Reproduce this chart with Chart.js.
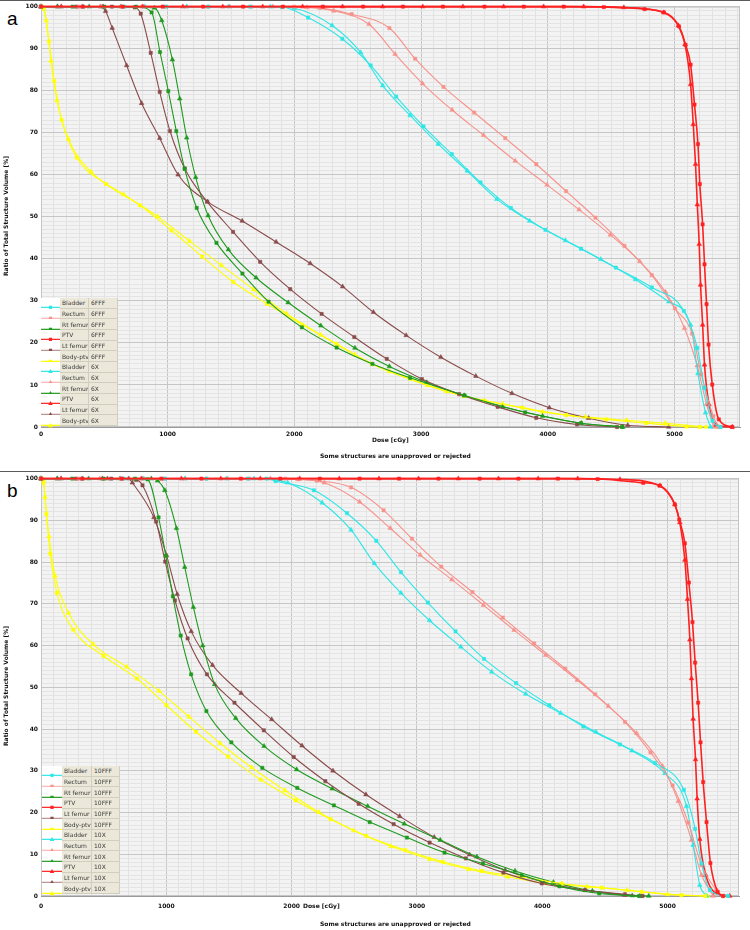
<!DOCTYPE html>
<html>
<head>
<meta charset="utf-8">
<script src="https://cdn.jsdelivr.net/npm/chart.js@4.4.0/dist/chart.umd.min.js"></script>
<style>
    body { margin: 0; width: 750px; height: 930px; background: #fff; position: relative; overflow: hidden; font-family: 'DejaVu Sans', sans-serif; }
    canvas { position: absolute; left: 0; }
    .rule { position: absolute; left: 0; width: 750px; height: 1px; background: #5a5a5a; }
    .tag { position: absolute; left: 7px; font: 19px/19px 'Liberation Sans', Arial, sans-serif; color: #000; }
    .small { position: absolute; font-weight: bold; font-size: 6px; line-height: 6px; color: #111; white-space: nowrap; }
    .ytitle { position: absolute; font-weight: bold; font-size: 6px; line-height: 6px; color: #111; white-space: nowrap; transform: translate(-50%, -50%) rotate(-90deg); }
    .legend { position: absolute; }
    .legend .row { position: absolute; left: 0; display: flex; }
    .legend .smp { background: #fff; }
    .legend .cell { background: #ebe8d9; border-right: 1px solid #d2cebf; border-bottom: 1px solid #d2cebf; box-sizing: border-box; font-size: 6px; color: #3a3a3a; padding-left: 2px; display: flex; align-items: center; white-space: nowrap; overflow: hidden; }
</style>
</head>
<body>
<div class="rule" style="top:0"></div>
<div class="rule" style="top:471px"></div>
<div class="tag" style="top:9px">a</div>
<div class="tag" style="top:481px">b</div>

<canvas id="chartA" width="750" height="470" style="top:0"></canvas>
<canvas id="chartB" width="750" height="458" style="top:472px"></canvas>

<div class="ytitle" style="left:6px; top:216px">Ratio of Total Structure Volume [%]</div>
<div class="ytitle" style="left:6px; top:686px">Ratio of Total Structure Volume [%]</div>
<div class="small" style="left:372px; top:437px">Dose [cGy]</div>
<div class="small" style="left:320px; top:453px">Some structures are unapproved or rejected</div>
<div class="small" style="left:303px; top:903px">Dose [cGy]</div>
<div class="small" style="left:320px; top:921px">Some structures are unapproved or rejected</div>

<div id="legendA" class="legend"></div>
<div id="legendB" class="legend"></div>

<script>
// structures and beam energies
const structures = ['Bladder', 'Rectum', 'Rt femur', 'PTV', 'Lt femur', 'Body-ptv'];
const energiesA = ['6FFF', '6X'];
const energiesB = ['10FFF', '10X'];
const colors = ['#2ee6e6', '#f7928c', '#1f9a1f', '#ff2020', '#8a4b4b', '#ffff00'];
const legendColors = ['#2ee6e6', '#ffb4b0', '#1f9a1f', '#ff2020', '#b89090', '#ffff00'];

// panel a: [dose cGy, volume %]
const bladder6FFF = [[0,100],[330,100],[660,100],[990,100],[1320,100],[1650,100],[1900,99.9],[2108,97.4],[2379,92.3],[2602,86],[2803,78.6],[3019,71.5],[3243,64.9],[3469,58.2],[3709,52.1],[3981,46.9],[4262,42.4],[4537,37.9],[4821,33.2],[5074,27.6],[5180,18.8],[5237,9.3],[5300,1.5],[5364,0]];
const rectum6FFF = [[0,100],[300,100],[640,100],[980,100],[1320,100],[1660,100],[2000,100],[2200,99.7],[2452,98.2],[2750,94.9],[2953,87.6],[3177,80.9],[3419,74.8],[3664,68.7],[3909,62.5],[4144,56.1],[4376,49.8],[4605,43.1],[4821,36.1],[5003,28.2],[5140,22.2],[5211,12.5],[5306,2.6],[5345,0]];
const rtFemur6FFF = [[0,100],[250,100],[500,100],[750,100],[873,98.6],[939,89.2],[1005,79.9],[1068,70.4],[1134,61.4],[1229,52.1],[1385,43.8],[1590,36.5],[1796,29.8],[2059,23.7],[2333,18.9],[2616,15],[2913,11.7],[3343,7.5],[3822,3.5],[4262,0.9],[4587,0]];
const ptv6FFF = [[0,100],[330,100],[645,100],[960,100],[1280,100],[1595,100],[1910,100],[2225,100],[2542,100],[2857,100],[3172,100],[3500,100],[3810,100],[4125,100],[4442,99.9],[4763,99.4],[4916,98.6],[5035,95.3],[5087,90.9],[5127,86.2],[5158,76.7],[5185,67.3],[5200,57.8],[5222,48.2],[5237,38.7],[5253,29.2],[5269,19.6],[5298,10.1],[5350,1.8],[5456,0]];
const ltFemur6FFF = [[0,100],[280,100],[560,100],[740,99.8],[787,98.3],[866,89],[937,79.7],[1018,70.4],[1134,61.5],[1311,53.6],[1516,46.4],[1730,39.3],[1967,32.8],[2215,26.9],[2473,21.4],[2729,16.2],[3006,11.4],[3300,7.8],[3604,4.8],[3909,2.2],[4231,0.6],[4547,0]];
const body6FFF = [[0,100],[20,99.5],[63,91.7],[105,82.3],[163,73],[282,64.1],[514,57.8],[783,52.7],[1028,46.8],[1273,40.5],[1518,34.5],[1784,29.3],[2063,24.3],[2332,19.8],[2610,15],[2913,11.5],[3200,8.5],[3500,6.3],[3800,4.6],[4146,2.8],[4462,1.8],[4778,0.9],[5095,0.1],[5200,0]];

const bladder6X = [[0,100],[160,100],[490,100],[820,100],[1150,100],[1480,100],[1810,100],[2000,99.6],[2298,95.5],[2523,89.1],[2697,81.2],[2913,74.1],[3135,67.3],[3364,60.9],[3598,54.2],[3857,49],[4139,44.4],[4418,39.9],[4692,35.1],[4955,29.8],[5127,24.3],[5185,12.7],[5245,3.4],[5285,0]];
const rectum6X = [[0,100],[470,100],[810,100],[1150,100],[1490,100],[1830,100],[2100,99.8],[2311,99],[2589,95.8],[2795,88.7],[3011,81.7],[3245,75.4],[3493,69.4],[3743,63.3],[3994,57.6],[4247,51.7],[4494,45.7],[4726,39.4],[4929,32.1],[5079,23.5],[5179,14.6],[5253,5.4],[5310,0]];
const rtFemur6X = [[0,100],[130,100],[380,100],[630,100],[895,99.7],[953,96.7],[1037,87.4],[1095,78.1],[1150,68.8],[1221,59.4],[1319,50.3],[1479,42.2],[1698,35.5],[1951,29.6],[2209,24.1],[2478,18.8],[2750,14.4],[3045,10.6],[3340,7.5],[3643,4.8],[3959,2.6],[4265,0.9],[4592,0]];
const ptv6X = [[0,100],[160,100],[490,100],[800,100],[1120,100],[1435,100],[1750,100],[2065,100],[2380,100],[2697,100],[3013,100],[3330,100],[3651,100],[3967,100],[4283,100],[4600,99.8],[4916,98.6],[5030,95.5],[5083,91],[5127,81.5],[5148,72],[5166,62.5],[5180,52.9],[5195,43.5],[5206,33.8],[5222,24.3],[5237,14.8],[5272,5.4],[5330,0.5],[5456,0]];
const ltFemur6X = [[0,100],[130,100],[330,100],[470,100],[510,98.9],[562,94.9],[676,86],[794,77],[937,68.7],[1082,60],[1314,53.6],[1588,49],[1856,44],[2125,38.9],[2381,33.4],[2624,27.3],[2882,21.8],[3156,16.6],[3432,12.1],[3717,8],[4012,4.6],[4323,2.1],[4631,0.4],[4955,0]];
const body6X = [[0,100],[20,99.8],[42,96.7],[79,87.1],[126,77.7],[216,68.5],[395,60.7],[653,55.3],[920,50.1],[1173,44.2],[1423,38.5],[1678,32.7],[1937,27],[2208,21.9],[2477,17.2],[2750,13.2],[3050,9.9],[3340,7.3],[3643,5.5],[3959,3.6],[4297,2.4],[4621,1.6],[4929,0.9],[5250,0]];

// panel b
const bladder10FFF = [[0,100],[330,100],[660,100],[990,100],[1320,100],[1650,100],[1800,100],[1872,99.4],[2178,97.2],[2442,91.7],[2676,85.1],[2872,77.6],[3087,70.3],[3308,63.4],[3536,56.8],[3791,51],[4057,45.7],[4328,40.6],[4620,36.3],[4899,31.9],[5130,25.4],[5220,16.1],[5271,7.8],[5337,1.4],[5483,0]];
const rectum10FFF = [[0,100],[300,100],[640,100],[980,100],[1320,100],[1660,100],[1950,100],[2200,99.5],[2474,97.9],[2734,92.4],[2960,85.6],[3194,78.9],[3443,72.8],[3685,66.7],[3935,60.5],[4182,54.5],[4423,48.3],[4660,41.7],[4864,34.4],[5040,26.5],[5165,17.6],[5271,7.4],[5390,1.4],[5443,0]];
const rtFemur10FFF = [[0,100],[250,100],[500,100],[750,100],[850,99.8],[938,90.7],[996,81.5],[1052,71.8],[1115,62.4],[1198,53.1],[1320,44.3],[1519,36.8],[1766,30.7],[2045,25.9],[2337,21.7],[2623,17.7],[2920,14],[3220,10.4],[3526,7.8],[3836,5],[4137,2.3],[4455,0.6],[4774,0]];
const ptv10FFF = [[0,100],[330,100],[645,100],[960,100],[1280,100],[1595,100],[1910,100],[2225,100],[2542,100],[2857,100],[3172,100],[3500,100],[3810,100],[4125,100],[4442,99.9],[4806,99],[4939,98.3],[5058,93.8],[5093,90.2],[5138,84.5],[5170,75.1],[5199,65.6],[5220,55.9],[5244,46.3],[5263,36.8],[5284,27.3],[5311,17.7],[5342,7.9],[5400,1],[5443,0]];
const ltFemur10FFF = [[0,100],[280,100],[560,100],[760,99.7],[810,98.4],[919,89.7],[991,80.1],[1069,70.8],[1170,61.7],[1324,53.1],[1544,46.3],[1778,39.7],[2017,33.3],[2269,27.5],[2535,22.1],[2814,17.2],[3101,12.8],[3390,9],[3690,5.6],[3996,3],[4341,1.4],[4660,0.4],[4800,0]];
const body10FFF = [[0,100],[20,99],[43,91.5],[74,82],[127,72.6],[258,63.8],[499,57.5],[765,52.1],[1001,45.7],[1238,39.3],[1493,33.4],[1753,27.9],[2032,22.9],[2311,18.4],[2596,14.4],[2907,11],[3207,8.2],[3518,6],[3829,4.6],[4155,3],[4474,2],[4793,1],[5111,0.2],[5300,0]];

const bladder10X = [[0,100],[160,100],[490,100],[820,100],[1150,100],[1480,100],[1700,100],[1969,99],[2244,94.2],[2474,87.7],[2660,79.7],[2872,72.6],[3101,66],[3350,59.7],[3597,53.7],[3868,48.4],[4147,43.8],[4429,39.3],[4716,34.8],[4979,29.4],[5151,21.5],[5204,12.2],[5257,2.6],[5310,0]];
const rectum10X = [[0,100],[470,100],[810,100],[1150,100],[1490,100],[1830,100],[2050,99.8],[2261,99],[2543,94.4],[2787,88.1],[3026,81.7],[3279,75.8],[3531,69.7],[3775,63.7],[4028,57.7],[4280,51.7],[4527,45.5],[4753,39],[4960,31.1],[5085,22.7],[5191,13.4],[5271,5],[5364,0]];
const rtFemur10X = [[0,100],[130,100],[380,100],[630,100],[880,100],[930,99.5],[988,97.2],[1081,88.1],[1147,78.8],[1216,69.2],[1291,60],[1386,50.7],[1554,42.6],[1780,35.9],[2040,30.3],[2324,25.7],[2607,21.5],[2899,17.3],[3186,13.4],[3478,9.4],[3783,6],[4089,3.3],[4400,1.2],[4718,0.1],[4850,0]];
const ptv10X = [[0,100],[160,100],[490,100],[800,100],[1120,100],[1435,100],[1750,100],[2065,100],[2380,100],[2697,100],[3013,100],[3330,100],[3651,100],[3967,100],[4283,100],[4620,99.8],[4939,98.3],[5058,93.8],[5098,89.5],[5138,80.5],[5159,71.1],[5178,61.4],[5191,52.1],[5204,42.4],[5223,32.7],[5236,23.3],[5257,13.6],[5305,5],[5380,0.8],[5496,0]];
const ltFemur10X = [[0,100],[130,100],[330,100],[530,100],[700,100],[729,99],[901,90.7],[1002,81.6],[1087,72.3],[1199,63.4],[1369,55.3],[1597,48.6],[1841,42.3],[2083,36],[2330,30],[2593,24.3],[2862,19.1],[3138,14.1],[3420,9.9],[3704,6.2],[4014,3.3],[4341,1.4],[4660,0.2],[4780,0]];
const body10X = [[0,100],[20,99.8],[32,95.6],[64,86.1],[112,76.7],[220,67.8],[417,60.3],[685,54.9],[943,49.1],[1182,42.9],[1429,36.6],[1681,30.8],[1947,25.3],[2218,20.1],[2495,15.7],[2793,11.9],[3101,8.8],[3412,6.4],[3725,4.6],[4036,3],[4360,2.2],[4678,1.4],[5000,0.4],[5319,0]];

const seriesA = [[bladder6FFF, rectum6FFF, rtFemur6FFF, ptv6FFF, ltFemur6FFF, body6FFF],
                 [bladder6X, rectum6X, rtFemur6X, ptv6X, ltFemur6X, body6X]];
const seriesB = [[bladder10FFF, rectum10FFF, rtFemur10FFF, ptv10FFF, ltFemur10FFF, body10FFF],
                 [bladder10X, rectum10X, rtFemur10X, ptv10X, ltFemur10X, body10X]];

const tickFont = { family: 'DejaVu Sans', size: 6, weight: 'bold' };

const plotBg = {
    id: 'plotBg',
    beforeDraw(chart) {
        const { ctx, chartArea: a } = chart;
        ctx.save();
        ctx.fillStyle = '#f3f3f3';
        ctx.fillRect(a.left, a.top, a.right - a.left, a.bottom - a.top);
        ctx.restore();
    },
    beforeDatasetsDraw(chart) {
        const { ctx, chartArea: a } = chart;
        ctx.save();
        ctx.strokeStyle = '#c4c4c4';
        ctx.lineWidth = 1;
        ctx.strokeRect(a.left + 0.5, a.top + 0.5, a.right - a.left - 1, a.bottom - a.top - 1);
        ctx.restore();
    }
};

function makeDatasets(series, energies) {
    const sets = [];
    // PTV first so it sits on top
    const order = [3, 0, 1, 2, 4, 5];
    [0, 1].forEach(e => {
        order.forEach(i => {
            const shape = e === 0 ? 'rect' : 'triangle';
            sets.push({
                label: structures[i] + ' ' + energies[e],
                data: series[e][i].map(p => ({ x: p[0], y: p[1] })),
                borderColor: colors[i],
                backgroundColor: colors[i],
                pointBackgroundColor: colors[i],
                pointBorderColor: colors[i],
                borderWidth: i === 3 ? 1.6 : 1.1,
                pointStyle: shape,
                pointRadius: shape === 'rect' ? 2.3 : 2.7,
                pointBorderWidth: 0.5,
                cubicInterpolationMode: 'monotone',
                clip: 6
            });
        });
    });
    return sets;
}

function makeChart(id, series, energies, xMax, pad, xHeight, tickPad) {
    return new Chart(document.getElementById(id), {
        type: 'line',
        data: { datasets: makeDatasets(series, energies) },
        options: {
            responsive: false,
            animation: false,
            devicePixelRatio: 1,
            layout: { padding: pad },
            plugins: { legend: { display: false }, tooltip: { enabled: false } },
            scales: {
                x: {
                    type: 'linear', min: 0, max: xMax,
                    border: { color: '#9a9a9a' },
                    grid: { drawTicks: false, color: c => (c.tick.value % 1000 === 0 ? '#c6c6c6' : '#e2e2e2') },
                    ticks: {
                        stepSize: 100, autoSkip: false, maxRotation: 0, includeBounds: false, maxTicksLimit: 1000,
                        padding: tickPad, font: tickFont, color: '#111',
                        callback: v => (v % 1000 === 0 ? String(v) : '')
                    },
                    afterFit: s => { s.height = xHeight; }
                },
                y: {
                    type: 'linear', min: 0, max: 100,
                    border: { color: '#9a9a9a' },
                    grid: { drawTicks: false, color: c => (c.tick.value % 10 === 0 ? '#c6c6c6' : '#e4e4e4') },
                    ticks: {
                        stepSize: 1, autoSkip: false, maxTicksLimit: 1000, padding: 3, font: tickFont, color: '#111',
                        callback: v => (v % 10 === 0 ? String(v) : '')
                    },
                    afterFit: s => { s.width = 41; }
                }
            }
        },
        plugins: [plotBg]
    });
}

function buildLegend(id, energies, left, top, widths) {
    const box = document.getElementById(id);
    box.style.left = left + 'px';
    box.style.top = top + 'px';
    const rowH = 128 / 12;
    let r = 0;
    [0, 1].forEach(e => {
        structures.forEach((name, i) => {
            const row = document.createElement('div');
            row.className = 'row';
            row.style.top = (r * rowH) + 'px';
            row.style.height = rowH + 'px';
            const w = widths[0], h = rowH, c = colors[i];
            const marker = e === 0
                ? `<rect x="${w / 2 - 1.6}" y="${h / 2 - 1.6}" width="3.2" height="3.2" fill="${c}"/>`
                : `<polygon points="${w / 2},${h / 2 - 2.4} ${w / 2 + 2.4},${h / 2 + 1.8} ${w / 2 - 2.4},${h / 2 + 1.8}" fill="${c}"/>`;
            row.innerHTML =
                `<div class="smp" style="width:${w}px;height:${h}px"><svg width="${w}" height="${h}">` +
                `<line x1="0" y1="${h / 2}" x2="${w}" y2="${h / 2}" stroke="${legendColors[i]}" stroke-width="1.2"/>${marker}</svg></div>` +
                `<div class="cell" style="width:${widths[1]}px;height:${h}px">${name}</div>` +
                `<div class="cell" style="width:${widths[2]}px;height:${h}px">${energies[e]}</div>`;
            box.appendChild(row);
            r++;
        });
    });
}

makeChart('chartA', seriesA, energiesA, 5517, { left: 0, right: 10, top: 5, bottom: 0 }, 43, 4);
makeChart('chartB', seriesB, energiesB, 5570, { left: 0, right: 11, top: 5, bottom: 0 }, 34, 7);
buildLegend('legendA', energiesA, 41, 298, [19, 29, 29]);
buildLegend('legendB', energiesB, 42, 766, [20, 30, 28]);
</script>
</body>
</html>
